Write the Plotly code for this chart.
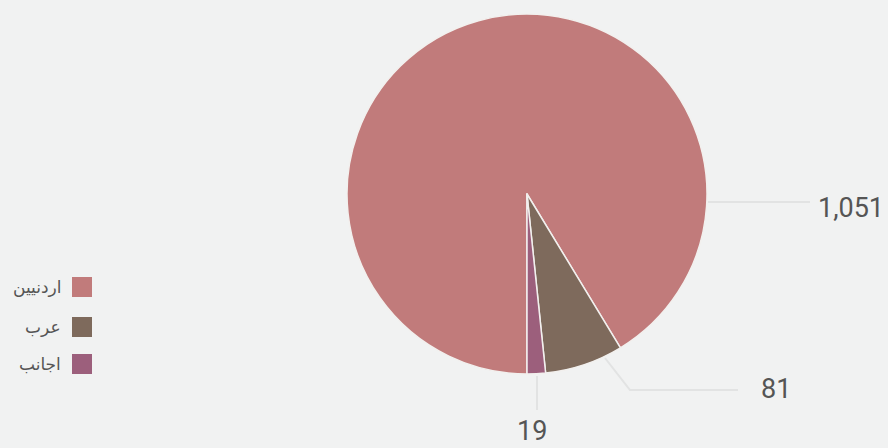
import plotly.graph_objects as go

# data
labels = ['اردنيين', 'عرب', 'اجانب']
values = [1051, 81, 19]
colors = ['#C17B7B', '#7E6A5C', '#9C5F7C']

W, H = 888, 448


def px(x):
    return x / W


def py(y):
    return 1 - y / H


fig = go.Figure()

fig.add_trace(
    go.Pie(
        labels=labels,
        values=values,
        sort=False,
        direction='clockwise',
        rotation=180,
        textinfo='none',
        marker=dict(colors=colors, line=dict(color='#F2F0EE', width=1.5)),
        domain=dict(x=[px(347), px(707)], y=[py(374), py(14)]),
        showlegend=False,
    )
)

# value labels with leader lines (placed like the original)
label_pos = [(851, 208), (776, 389), (532, 431)]
leader_paths = [
    [(708, 202), (810, 202)],
    [(605, 358), (630, 390), (738, 390)],
    [(537, 376), (537, 410)],
]
annotations = []
shapes = []
for v, (x, y), path in zip(values, label_pos, leader_paths):
    annotations.append(dict(
        x=px(x), y=py(y), xref='paper', yref='paper', showarrow=False,
        text=f'{v:,}', font=dict(family='Roboto, DejaVu Sans', size=27, color='#555555'),
        xanchor='center', yanchor='middle', borderpad=0,
    ))
    d = 'M ' + ' L '.join(f'{px(a)} {py(b)}' for a, b in path)
    shapes.append(dict(type='path', path=d, xref='paper', yref='paper',
                       line=dict(color='#E2E3E3', width=2)))

# legend, swatch on the right of the text
legend_y = [287, 327, 364]
for lab, col, y in zip(labels, colors, legend_y):
    shapes.append(dict(type='rect', xref='paper', yref='paper',
                       x0=px(72), x1=px(92), y0=py(y - 10), y1=py(y + 10),
                       fillcolor=col, line=dict(width=0)))
    annotations.append(dict(
        x=px(63), y=py(y), xref='paper', yref='paper', showarrow=False,
        text=lab, font=dict(family='DejaVu Sans', size=17, color='#555555'),
        xanchor='right', yanchor='middle',
    ))

fig.update_layout(
    width=W, height=H,
    margin=dict(l=0, r=0, t=0, b=0),
    paper_bgcolor='#F1F2F2',
    plot_bgcolor='#F1F2F2',
    annotations=annotations,
    shapes=shapes,
)

fig.write_html('out.html', config={'displayModeBar': False},
               post_script="document.body.style.margin='0';")
